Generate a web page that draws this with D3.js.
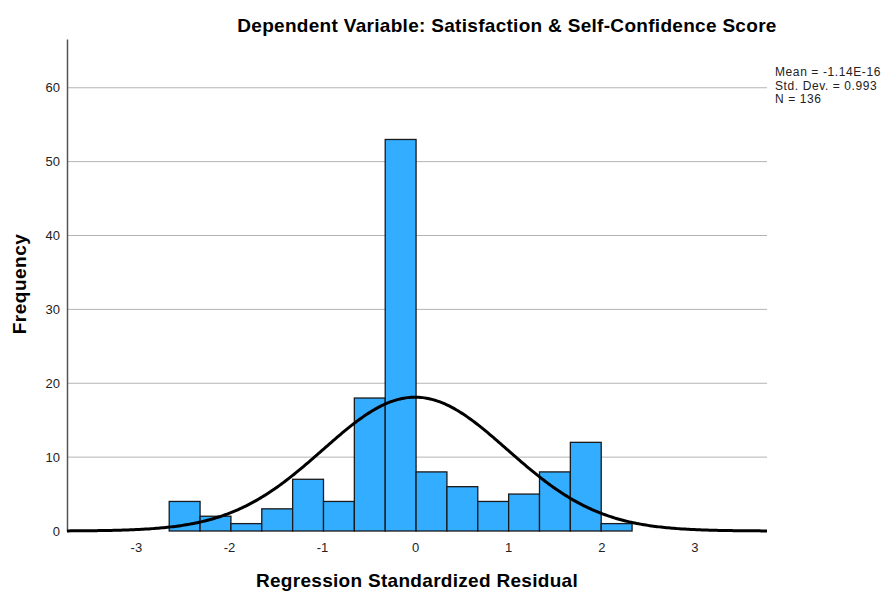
<!DOCTYPE html>
<html>
<head>
<meta charset="utf-8">
<script src="https://cdn.jsdelivr.net/npm/d3@7"></script>
<style>
  body { margin: 0; background: #fff; }
  text { font-family: "Liberation Sans", Arial, sans-serif; }
</style>
</head>
<body>
<div id="chart"></div>
<script>
// histogram bins
var binStart = -2.642,
    binWidth = 0.3315;
var counts = [4, 2, 1, 3, 7, 4, 18, 53, 8, 6, 4, 5, 8, 12, 1];

var xTicks = [-3, -2, -1, 0, 1, 2, 3];
var yTicks = [0, 10, 20, 30, 40, 50, 60];
var statLines = ["Mean = -1.14E-16", "Std. Dev. = 0.993", "N = 136"];
var mean = -1.14e-16, sd = 0.993, n = 136;

var margin = {top: 39, right: 114, bottom: 62, left: 67},
    width = 881 - margin.left - margin.right,
    height = 593 - margin.top - margin.bottom;

var svg = d3.select("#chart")
    .append("svg")
        .attr("width", 881)
        .attr("height", 593);

var g = svg.append("g")
    .attr("transform", "translate(" + margin.left + "," + margin.top + ")");

var x = d3.scaleLinear()
    .domain([-3.74, 3.78])
    .range([0, width]);

var y = d3.scaleLinear()
    .domain([0, 66.6])
    .range([height, 0]);

// gridlines
g.append("g")
  .selectAll("line")
  .data(yTicks.filter(function(d) { return d > 0; }))
  .enter().append("line")
    .attr("x1", 0)
    .attr("x2", width)
    .attr("y1", function(d) { return y(d); })
    .attr("y2", function(d) { return y(d); })
    .attr("stroke", "#b4b4b4")
    .attr("stroke-width", 1);

// y axis
var yAxis = g.append("g")
    .call(d3.axisLeft(y).tickValues(yTicks).tickSize(0).tickPadding(7)
        .tickFormat(function(d) { return String(d); }));
yAxis.select(".domain").attr("stroke", "#555").attr("stroke-width", 1.5);
yAxis.selectAll("text").attr("font-size", 13).attr("fill", "#222");

// x axis (labels only)
var xAxis = g.append("g")
    .attr("transform", "translate(0," + height + ")")
    .call(d3.axisBottom(x).tickValues(xTicks).tickSize(0).tickPadding(12)
        .tickFormat(function(d) { return String(d); }));
xAxis.select(".domain").remove();
xAxis.selectAll("text").attr("font-size", 13).attr("fill", "#222");

// bars
var bins = counts.map(function(c, i) {
    return {x0: binStart + i * binWidth, x1: binStart + (i + 1) * binWidth, count: c};
});

g.selectAll(".bar")
  .data(bins)
  .enter().append("rect")
    .attr("class", "bar")
    .attr("x", function(d) { return x(d.x0); })
    .attr("width", function(d) { return x(d.x1) - x(d.x0); })
    .attr("y", function(d) { return y(d.count); })
    .attr("height", function(d) { return height - y(d.count); })
    .attr("fill", "#33adff")
    .attr("stroke", "#1a1a1a")
    .attr("stroke-width", 1.3);

// normal curve from the stated mean / sd / N
var curvePts = d3.range(-3.74, 3.781, 0.02).map(function(v) {
    var z = (v - mean) / sd;
    return [v, n * binWidth * Math.exp(-0.5 * z * z) / (sd * Math.sqrt(2 * Math.PI))];
});

g.append("path")
    .datum(curvePts)
    .attr("fill", "none")
    .attr("stroke", "#000")
    .attr("stroke-width", 3)
    .attr("d", d3.line()
        .x(function(d) { return x(d[0]); })
        .y(function(d) { return y(d[1]); }));

// title
svg.append("text")
    .attr("x", 507)
    .attr("y", 32)
    .attr("text-anchor", "middle")
    .attr("font-size", 19)
    .attr("font-weight", "bold")
    .attr("letter-spacing", 0.3)
    .text("Dependent Variable: Satisfaction & Self-Confidence Score");

// axis titles
svg.append("text")
    .attr("x", margin.left + width / 2)
    .attr("y", 587)
    .attr("text-anchor", "middle")
    .attr("font-size", 19)
    .attr("font-weight", "bold")
    .attr("letter-spacing", 0.3)
    .text("Regression Standardized Residual");

svg.append("text")
    .attr("transform", "translate(26," + 284 + ") rotate(-90)")
    .attr("text-anchor", "middle")
    .attr("font-size", 19)
    .attr("font-weight", "bold")
    .attr("letter-spacing", 0.5)
    .text("Frequency");

// stats box
svg.append("g")
  .selectAll("text")
  .data(statLines)
  .enter().append("text")
    .attr("x", 775)
    .attr("y", function(d, i) { return 76 + i * 13.5; })
    .attr("font-size", 12)
    .attr("letter-spacing", 0.6)
    .attr("fill", "#222")
    .text(function(d) { return d; });
</script>
</body>
</html>
